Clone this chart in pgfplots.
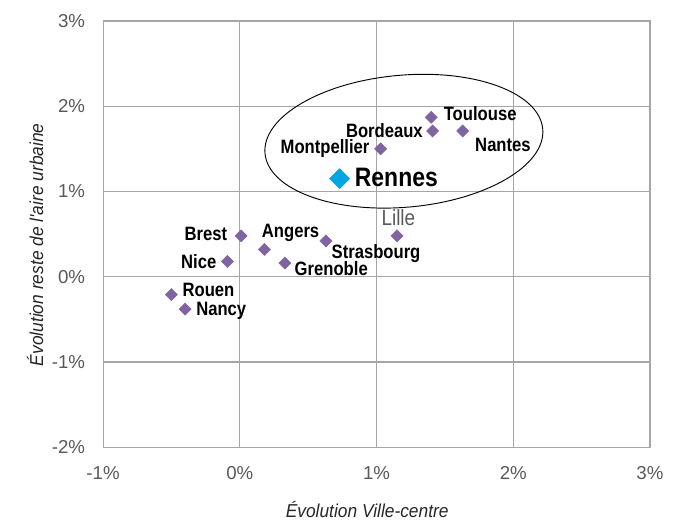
\documentclass[border=0pt]{standalone}
\usepackage{fontspec}
\setmainfont[FakeStretch=0.86]{Liberation Sans}
\newfontfamily\tickfont{Liberation Sans}
\newfontfamily\labfont[FakeStretch=0.93]{Liberation Sans}
\usepackage{pgfplots}
\pgfplotsset{compat=1.18}
\definecolor{gridc}{HTML}{A6A6A6}
\definecolor{tickc}{HTML}{595959}
\definecolor{purp}{HTML}{8064A2}
\definecolor{cyanr}{HTML}{00A6E2}
\begin{document}
\begin{tikzpicture}
\begin{axis}[
  scale only axis, width=410pt, height=319.5pt,
  xmin=-1, xmax=3, ymin=-2, ymax=3,
  xtick={-1,0,1,2,3}, ytick={-2,-1,0,1,2,3},
  xticklabels={-1\%,0\%,1\%,2\%,3\%},
  yticklabels={-2\%,-1\%,0\%,1\%,2\%,3\%},
  grid=major, major grid style={gridc, line width=0.8pt},
  axis line style={gridc, line width=0.8pt},
  tick style={draw=none},
  ticklabel style={font=\tickfont\fontsize{14}{16}\selectfont, text=tickc},
  xticklabel style={yshift=-11pt},
  yticklabel style={xshift=-10pt},
  xlabel={\textit{Évolution Ville-centre}},
  ylabel={\textit{Évolution reste de l'aire urbaine}},
  label style={font=\labfont\fontsize{14}{16}\selectfont, text=black!85},
  xlabel style={at={(axis description cs:0.5,0)}, anchor=center, yshift=-47pt, xshift=-7pt},
  ylabel style={at={(axis description cs:0,0.5)}, anchor=center, xshift=-8pt, yshift=51pt},
  clip=false,
]
\addplot[only marks, mark=square*, mark size=3.2pt, mark options={rotate=45, fill=purp, draw=purp}]
  coordinates {
  (1.40,1.87) (1.41,1.71) (1.63,1.71) (1.03,1.50)
  (1.15,0.48) (0.01,0.48) (0.18,0.32) (0.63,0.42)
  (0.33,0.16) (-0.09,0.18) (-0.50,-0.21) (-0.40,-0.38)
  };
\addplot[only marks, mark=square*, mark size=5.3pt, mark options={rotate=45, fill=cyanr, draw=cyanr}]
  coordinates {(0.73,1.15)};
\draw[black, line width=0.7pt, rotate around={5:(axis cs:1.20,1.59)}] (axis cs:1.20,1.59) ellipse [x radius=104.5pt, y radius=49.5pt];
\begin{scope}[every node/.style={font=\fontsize{14.5}{17}\selectfont\bfseries, inner sep=0pt}]
\node[anchor=west] at (axis cs:1.49,1.91) {Toulouse};
\node[anchor=east] at (axis cs:1.34,1.72) {Bordeaux};
\node[anchor=west] at (axis cs:1.72,1.55) {Nantes};
\node[anchor=east] at (axis cs:0.95,1.51) {Montpellier};
\node[anchor=west, font=\fontsize{20}{23}\selectfont\bfseries] at (axis cs:0.84,1.16) {Rennes};
\node[anchor=east] at (axis cs:-0.09,0.50) {Brest};
\node[anchor=west] at (axis cs:0.16,0.52) {Angers};
\node[anchor=west] at (axis cs:0.67,0.27) {Strasbourg};
\node[anchor=west] at (axis cs:0.40,0.09) {Grenoble};
\node[anchor=east] at (axis cs:-0.17,0.18) {Nice};
\node[anchor=west] at (axis cs:-0.42,-0.16) {Rouen};
\node[anchor=west] at (axis cs:-0.32,-0.40) {Nancy};
\node[font=\fontsize{16.5}{19}\selectfont, text=tickc] at (axis cs:1.16,0.69) {Lille};
\end{scope}
\coordinate (SW) at (axis cs:-1,-2);
\coordinate (NE) at (axis cs:3,3);
\end{axis}
\pgfresetboundingbox
\path ([shift={(-77.25pt,-55.5pt)}]SW) rectangle ([shift={(20.25pt,15.75pt)}]NE);
\end{tikzpicture}
\end{document}
